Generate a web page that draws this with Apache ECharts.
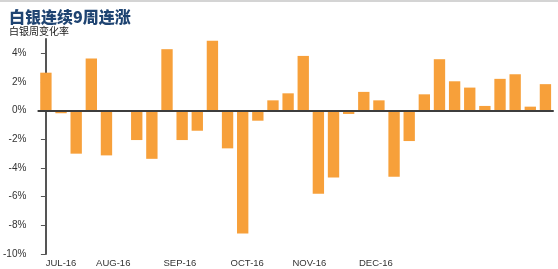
<!DOCTYPE html>
<html>
<head>
<meta charset="utf-8">
<script src="https://cdn.jsdelivr.net/npm/echarts@6/dist/echarts.min.js"></script>
<style>
html,body{margin:0;padding:0;background:#fff;}
#c{width:558px;height:269px;position:relative;}
#topline{position:absolute;left:0;top:0;width:558px;height:2px;background:#d4d4d4;z-index:5;}
</style>
</head>
<body>
<div id="topline"></div>
<div id="c"></div>
<script>
// weekly silver % change (one entry per week)
var weeks = ['W1','W2','W3','W4','W5','W6','W7','W8','W9','W10','W11','W12','W13','W14','W15','W16','W17',
             'W18','W19','W20','W21','W22','W23','W24','W25','W26','W27','W28','W29','W30','W31','W32','W33','W34'];
var changes = [2.65, -0.18, -3.0, 3.64, -3.12, 0, -2.05, -3.36, 4.29, -2.05, -1.4, 4.87, -2.63, -8.57,
               -0.7, 0.72, 1.21, 3.82, -5.8, -4.66, -0.23, 1.31, 0.72, -4.61, -2.12, 1.14, 3.59, 2.05,
               1.61, 0.33, 2.22, 2.54, 0.28, 1.85];
// month labels and their positions in week-index units
var monthLabels = ['JUL-16','AUG-16','SEP-16','OCT-16','NOV-16','DEC-16'];
var monthPos = [1.0, 4.45, 8.85, 13.3, 17.4, 21.8];
var yTicks = [-10, -8, -6, -4, -2, 0, 2, 4];

var chart = echarts.init(document.getElementById('c'), null, {renderer:'canvas'});
var option = {
  animation: false,
  backgroundColor: '#fff',
  title: {
    text: '白银连续9周连涨',
    subtext: '白银周变化率',
    left: 4, top: 4,
    itemGap: 1,
    textStyle: {fontSize: 16, fontWeight: 900, color: '#1f4472', fontFamily: 'Noto Sans CJK SC'},
    subtextStyle: {fontSize: 10, color: '#222', fontFamily: 'Noto Sans CJK SC'}
  },
  grid: {left: 33, right: 5, top: 39, bottom: 15},
  xAxis: [{
    type: 'category',
    data: weeks,
    axisLine: {onZero: true, lineStyle: {color: '#3d3d3d', width: 2}},
    axisTick: {show: false},
    axisLabel: {show: false},
    splitLine: {show: false},
    z: 5
  }, {
    type: 'value',
    position: 'bottom',
    min: -0.5, max: 33.5,
    axisLine: {show: false, onZero: false},
    axisTick: {show: false},
    splitLine: {show: false},
    axisLabel: {
      customValues: monthPos,
      margin: 4,
      fontSize: 9.5,
      color: '#333',
      fontFamily: 'Liberation Sans Narrow, Arial Narrow, Liberation Sans, sans-serif',
      formatter: function (v) {
        for (var i = 0; i < monthPos.length; i++) {
          if (Math.abs(monthPos[i] - v) < 1e-6) return monthLabels[i];
        }
        return '';
      }
    }
  }],
  yAxis: {
    type: 'value',
    min: -10, max: 5,
    offset: 5,
    axisLine: {show: true, lineStyle: {color: '#555', width: 2}},
    axisTick: {show: true, customValues: yTicks, length: 5, lineStyle: {color: '#555', width: 1}},
    splitLine: {show: false},
    axisLabel: {
      customValues: yTicks,
      margin: 7,
      fontSize: 10,
      color: '#333',
      fontFamily: 'Liberation Sans, Arial, sans-serif',
      formatter: function (v) { return v + '%'; }
    }
  },
  series: [{
    type: 'bar',
    xAxisIndex: 0,
    data: changes,
    barCategoryGap: '25%',
    itemStyle: {color: '#F7A03A'}
  }]
};
chart.setOption(option);
</script>
</body>
</html>
